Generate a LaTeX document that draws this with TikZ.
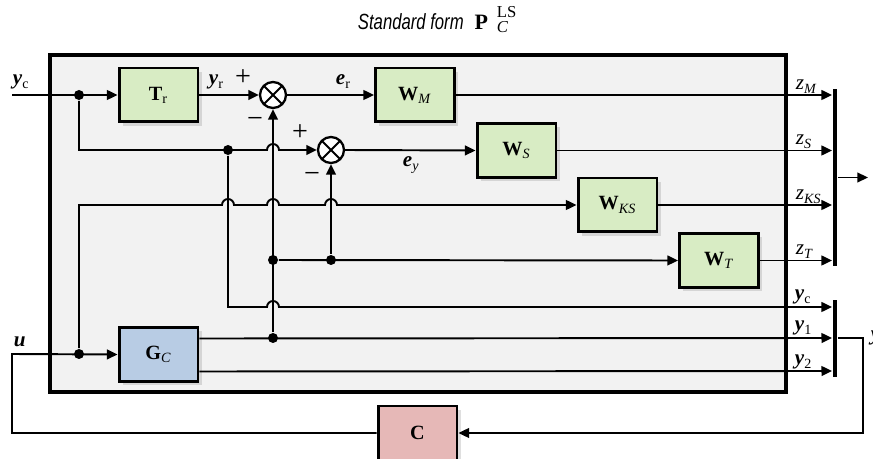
\documentclass[tikz,border=0pt]{standalone}
\usepackage{fontspec}
\setmainfont{Liberation Serif}
\newfontfamily\titlefont[FakeStretch=0.76]{Liberation Sans}
\usetikzlibrary{arrows.meta,shadows}
\definecolor{blkgreen}{RGB}{216,236,196}
\definecolor{blkblue}{RGB}{184,204,228}
\definecolor{blkred}{RGB}{230,184,183}
\definecolor{framegray}{RGB}{242,242,242}
\newcommand{\sig}[2]{\textbf{\textit{#1}}\textsubscript{#2}}

\begin{document}
\begin{tikzpicture}[x=0.02cm, y=-0.02cm, line width=1.1pt, >={Triangle[length=6pt,width=5.5pt]},
	every node/.style={font=\fontsize{12}{13}\selectfont},
	blk/.style={draw, line width=1.7pt, minimum width=1.58cm, minimum height=1.08cm, inner sep=0pt, fill=blkgreen,
		drop shadow={shadow xshift=2pt, shadow yshift=-2pt, opacity=0.25}, font=\fontsize{11.5}{13}\selectfont},
	sumc/.style={circle, draw, line width=1.3pt, minimum size=0.52cm, inner sep=0pt, fill=white,
		path picture={\draw[line width=1.1pt] (path picture bounding box.north west) -- (path picture bounding box.south east)
			(path picture bounding box.north east) -- (path picture bounding box.south west);}},
	dot/.style={circle, fill, inner sep=0pt, minimum size=0.2cm},
	bus/.style={fill, inner sep=0pt, minimum width=0.08cm},
	lab/.style={inner sep=0pt, anchor=base west},
	sgn/.style={inner sep=0pt, font=\fontsize{16}{16}\selectfont}]
	\useasboundingbox (0,0) rectangle (873,459);
	\draw[line width=2.3pt, fill=framegray] (50,55) rectangle (786,392);
	\node[lab, font=\fontsize{12.5}{13}\selectfont] (title) at (357,30) {{\titlefont\itshape Standard form}\enspace
		\textbf{P}\hspace{5pt}\rlap{\raisebox{7pt}{\fontsize{9.5}{10}\selectfont LS}}\raisebox{-1.5pt}{\fontsize{9.5}{10}\selectfont\textit{C}}};

	\node[blk] (Tr) at (158.5,95) {\textbf{T}\textsubscript{r}};
	\node[blk] (WM) at (415,95) {\textbf{W}\textsubscript{\textit{M}}};
	\node[blk] (WS) at (516.5,150.5) {\textbf{W}\textsubscript{\textit{S}}};
	\node[blk] (WKS) at (617.5,205) {\textbf{W}\textsubscript{\textit{KS}}};
	\node[blk] (WT) at (719,260.5) {\textbf{W}\textsubscript{\textit{T}}};
	\node[blk, fill=blkblue] (GC) at (158.5,354.5) {\textbf{G}\textsubscript{\textit{C}}};
	\node[blk, fill=blkred] (C) at (417.5,433) {\textbf{C}};
	\node[sumc] (s1) at (273,95) {};
	\node[sumc] (s2) at (331,150) {};
	\node[bus, minimum height=3.54cm] (busz) at (835,177.5) {};
	\node[bus, minimum height=1.54cm] (busy) at (835,338.5) {};

	\coordinate (ycin) at (12,95);
	\coordinate (fbl) at (12,354);
	\coordinate (fbr) at (863,338);
	\node[dot] (d1) at (79,95) {};
	\node[dot] (d2) at (228,150) {};
	\node[dot] (d3) at (273,260) {};
	\node[dot] (d4) at (331,260) {};
	\node[dot] (d5) at (273,338) {};
	\node[dot] (d6) at (79,354) {};

	\draw[->] (ycin) -- (Tr.west);
	\draw[->] (Tr.east) -- (s1.west);
	\draw[->] (s1.east) -- (WM.west);
	\draw[->] (d1) -- (79,150) -- (267,150) arc[start angle=180, end angle=0, radius=0.12cm] -- (s2.west);
	\draw[->] (s2.east) -- (WS.west);
	\draw[->] (d6) -- (79,205) -- (222,205) arc[start angle=180, end angle=0, radius=0.12cm]
		-- (267,205) arc[start angle=180, end angle=0, radius=0.12cm]
		-- (325,205) arc[start angle=180, end angle=0, radius=0.12cm] -- (WKS.west);
	\draw[->] (d3) -- (WT.west);
	\draw[->] (d4) -- (s2.south);
	\draw[->] (d5) -- (s1.south);
	\draw[->] (d2) -- (228,307) -- (267,307) arc[start angle=180, end angle=0, radius=0.12cm] -- (busy.west |- 0,307);
	\foreach \b in {WM, WS, WKS, WT} {\draw[->] (\b.east) -- (busz.west |- \b.east);}
	\draw[->] ([yshift=0.32cm]GC.east) -- (busy.west |- d5);
	\draw[->] ([yshift=-0.34cm]GC.east) -- (busy.west |- 0,371);
	\draw[->] (busz.east) -- ++(30,0) node[lab, anchor=west, xshift=3pt] (lz) {\textit{z}};
	\draw[->] (busy.east |- d5) -- (fbr) |- (C.east);
	\draw[->] (C.west) -| (fbl) -- (GC.west);
	\node[lab, anchor=west] (ly) at (870,338) {\sig{y}{}};

	\node[lab] (lyc) at (12,85) {\sig{y}{c}};
	\node[lab] (lu) at (13,347) {\textbf{\textit{u}}};
	\node[lab] (lyr) at (208,85) {\sig{y}{r}};
	\node[lab] (ler) at (335,85) {\sig{e}{r}};
	\node[lab] (ley) at (402,167) {\textbf{\textit{e}}\textsubscript{\textit{y}}};
	\node[sgn] (p1) at (243,78) {+};
	\node[sgn] (m1) at (255,122) {−};
	\node[sgn] (p2) at (300,133) {+};
	\node[sgn] (m2) at (312,177) {−};

	\node[lab] (lzM) at (795,90) {\textit{z}\textsubscript{\textit{M}}};
	\node[lab] (lzS) at (795,145) {\textit{z}\textsubscript{\textit{S}}};
	\node[lab] (lzKS) at (795,200) {\textit{z}\textsubscript{\textit{KS}}};
	\node[lab] (lzT) at (795,255) {\textit{z}\textsubscript{\textit{T}}};
	\node[lab] (lyc2) at (794,300) {\sig{y}{c}};
	\node[lab] (ly1) at (794,331) {\sig{y}{1}};
	\node[lab] (ly2) at (794,365) {\sig{y}{2}};
\end{tikzpicture}
\end{document}
